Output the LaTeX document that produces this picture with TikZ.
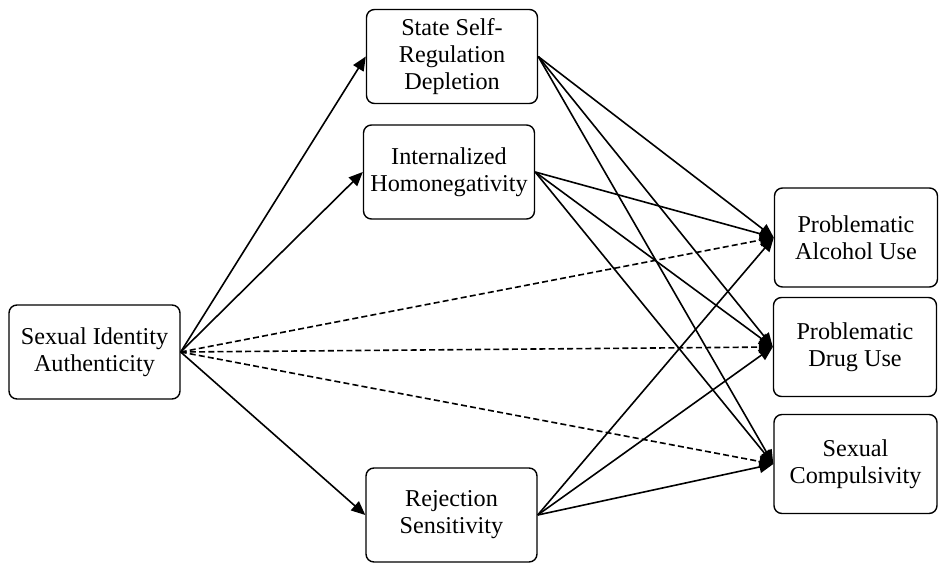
\documentclass[tikz,border=0pt]{standalone}
\usepackage{fontspec}
\setmainfont{Liberation Serif}
\usepackage{tikz}
\usetikzlibrary{arrows.meta,positioning}

\begin{document}
\begin{tikzpicture}[
  x=0.5pt,y=-0.5pt,
  var/.style={draw,line width=0.7pt,rounded corners=4pt,minimum width=85.5pt,minimum height=47pt,align=center,font=\fontsize{12.1}{13.5}\selectfont,inner sep=1pt},
  outc/.style={var,minimum width=81.5pt,minimum height=49.5pt},
  arr/.style={-{Triangle[length=7pt,width=6pt]},line width=0.8pt},
  darr/.style={arr,dash pattern=on 3pt off 1.6pt}
]
\useasboundingbox (0,0) rectangle (939,563);
\node[var] (sia) at (94.5,352) {Sexual Identity\\Authenticity};
\node[var] (ssrd) at (452,56.5) {State Self-\\Regulation\\Depletion};
\node[var] (ih) at (449,172) {Internalized\\Homonegativity};
\node[var] (rs) at (451.5,515) {Rejection\\Sensitivity};
\node[outc] (pau) at (856,237.5) {Problematic\\Alcohol Use};
\node[outc] (pdu) at (855,347) {Problematic\\Drug Use};
\node[outc] (sc) at (855.5,464) {Sexual\\Compulsivity};

% a paths
\draw[arr] (sia.east) -- (ssrd.west);
\draw[arr] (sia.east) -- (ih.west);
\draw[arr] (sia.east) -- (rs.west);
% b paths
\foreach \m in {ssrd,ih,rs}
  \foreach \o in {pau,pdu,sc}
    \draw[arr] (\m.east) -- (\o.west);
% direct paths
\draw[darr] (sia.east) -- (pau.west);
\draw[darr] (sia.east) -- (pdu.west);
\draw[darr] (sia.east) -- (sc.west);
\end{tikzpicture}
\end{document}
